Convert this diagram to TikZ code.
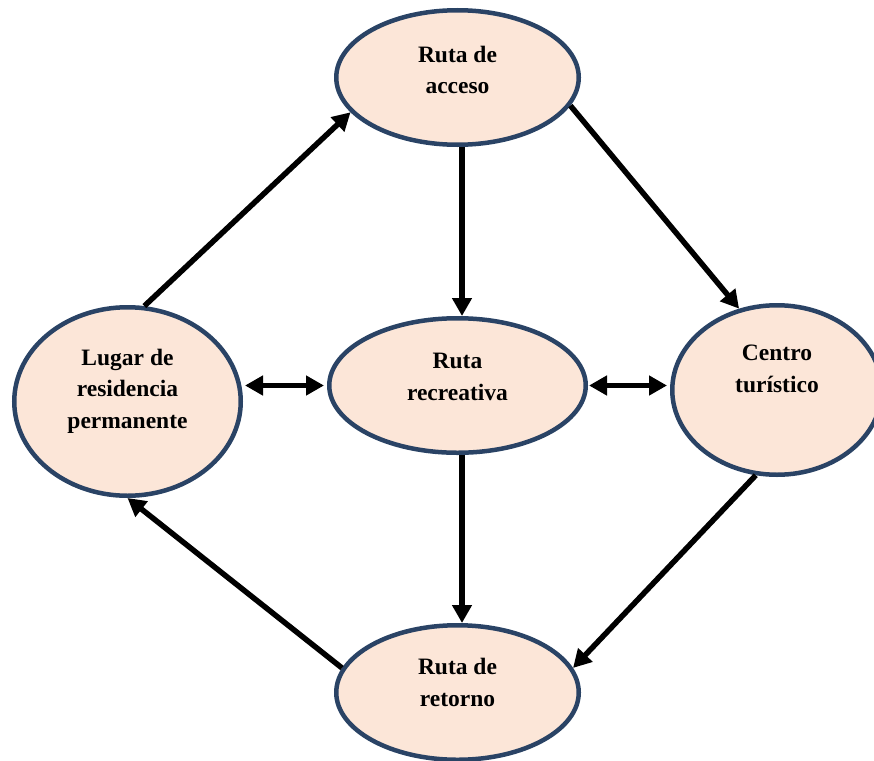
\documentclass[tikz,border=0pt]{standalone}
\usepackage{fontspec}
\setmainfont{Liberation Serif}
\usepackage{xcolor}
\usetikzlibrary{shapes.geometric,arrows.meta,calc}

\definecolor{relleno}{HTML}{FCE6D8}
\definecolor{borde}{HTML}{2A4365}

\tikzset{
    etapa/.style={ellipse, draw=borde, fill=relleno, line width=4.5pt, inner sep=0pt},
    rotulo/.style={align=center, font=\bfseries\fontsize{23.5}{31.5}\selectfont},
    flecha/.style={line width=5.5pt, -{Triangle[length=18pt,width=19pt]}},
    doble/.style={line width=5.5pt, {Triangle[length=18pt,width=19pt]}-{Triangle[length=18pt,width=19pt]}}
}

\begin{document}
\begin{tikzpicture}[x=1pt, y=-1pt]
        \useasboundingbox (0,0) rectangle (874,760);

        % Ellipses
        \node[etapa, minimum width=242.5pt, minimum height=134.5pt] (acc) at (457.5,77.5) {};
        \node[etapa, minimum width=256.5pt, minimum height=134.5pt] (rec) at (457.5,385.5) {};
        \node[etapa, minimum width=226.5pt, minimum height=188.5pt] (lug) at (127.5,401.5) {};
        \node[etapa, minimum width=209.5pt, minimum height=169.5pt] (cen) at (777,390) {};
        \node[etapa, minimum width=242.5pt, minimum height=134.5pt] (ret) at (457.5,692.5) {};

        % Texts
        \node[rotulo] (acc-t) at (457.5,70) {Ruta de\\acceso};
        \node[rotulo] (rec-t) at (457.5,377) {Ruta\\recreativa};
        \node[rotulo] (lug-t) at (127.5,391) {Lugar de\\residencia\\permanente};
        \node[rotulo] (cen-t) at (777,369) {Centro\\turístico};
        \node[rotulo] (ret-t) at (457.5,682.5) {Ruta de\\retorno};

        % Arrows
        \draw[flecha] (lug.80) -- (acc.198);
        \draw[flecha] (acc.-14) -- (cen.115);
        \draw[flecha] ([xshift=4.5pt]acc.south) -- ([xshift=4.5pt]rec.north);
        \draw[flecha] ([xshift=4.5pt]rec.south) -- ([xshift=4.5pt]ret.north);
        \draw[flecha] (cen.256) -- (ret.12);
        \draw[flecha] (ret.168) -- (lug.-90);
        \draw[doble, shorten <=2pt, shorten >=3pt] (lug.east |- rec.west) -- (rec.west);
        \draw[doble, shorten <=1pt, shorten >=3pt] (rec.east) -- (rec.east -| cen.west);
\end{tikzpicture}
\end{document}
